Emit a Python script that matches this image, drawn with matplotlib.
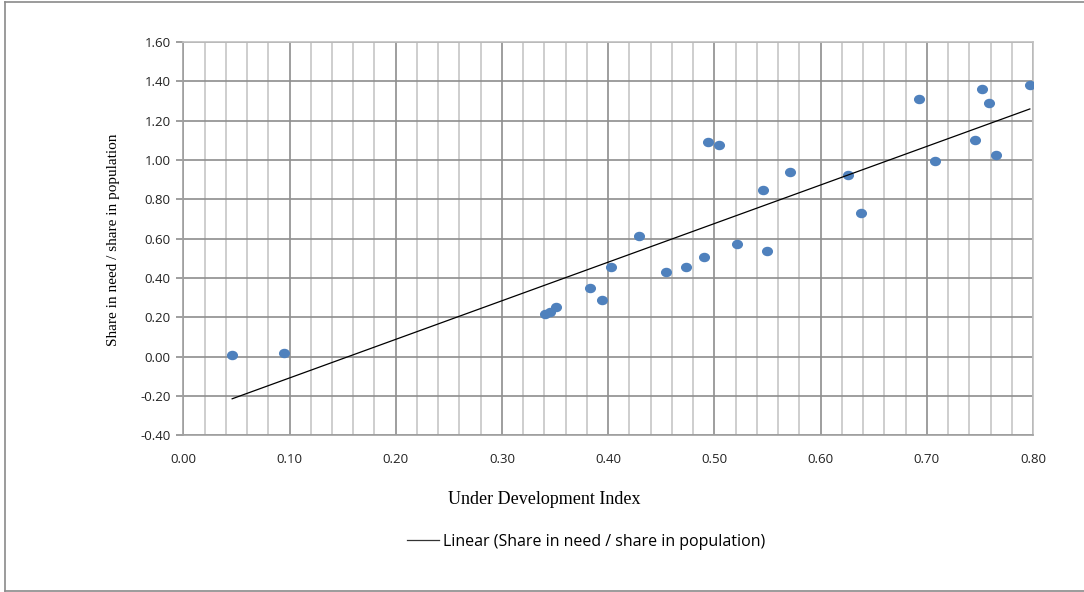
import numpy as np
import matplotlib
matplotlib.use("Agg")
import matplotlib.pyplot as plt
from matplotlib.markers import MarkerStyle
from matplotlib.transforms import Affine2D
from matplotlib.lines import Line2D

# Data
udi = [0.046, 0.095, 0.341, 0.345, 0.351, 0.383, 0.394, 0.403, 0.429, 0.454,
       0.473, 0.490, 0.494, 0.504, 0.521, 0.546, 0.550, 0.571, 0.626, 0.638,
       0.693, 0.708, 0.745, 0.752, 0.759, 0.765, 0.797]
share_ratio = [0.007, 0.017, 0.217, 0.227, 0.253, 0.348, 0.290, 0.456, 0.615, 0.429,
               0.458, 0.507, 1.090, 1.075, 0.571, 0.847, 0.536, 0.941, 0.924, 0.732,
               1.309, 0.997, 1.100, 1.359, 1.291, 1.025, 1.380]
x_ticks = [0.0, 0.1, 0.2, 0.3, 0.4, 0.5, 0.6, 0.7, 0.8]
y_ticks = [-0.4, -0.2, 0.0, 0.2, 0.4, 0.6, 0.8, 1.0, 1.2, 1.4, 1.6]
x_label = "Under Development Index"
y_label = "Share in need / share in population"
trend_label = "Linear (Share in need / share in population)"

W, H = 1084, 592
fig = plt.figure(figsize=(W / 100, H / 100), dpi=100)
ax = fig.add_axes([183.3 / W, 1 - 435.3 / H, (1033 - 183.3) / W, (435.3 - 42) / H])

sans = ["Open Sans", "DejaVu Sans"]
serif = ["Liberation Serif", "DejaVu Serif"]

# grid
major_c = "#8e8e8e"
minor_c = "#c6c6c6"
ax.set_xlim(0, 0.8)
ax.set_ylim(-0.4, 1.6)
ax.set_xticks(x_ticks)
ax.set_xticks(np.arange(0, 0.8001, 0.02), minor=True)
ax.set_yticks(y_ticks)
ax.grid(which="minor", axis="x", color=minor_c, lw=1.2, zorder=0)
ax.grid(which="major", axis="x", color=major_c, lw=1.2, zorder=0)
ax.grid(which="major", axis="y", color=major_c, lw=1.2, zorder=0)
ax.set_axisbelow(True)

ax.set_xticklabels([f"{v:.2f}" for v in x_ticks], fontfamily=sans, fontsize=9.5, color="#222222")
ax.set_yticklabels([f"{v:.2f}" for v in y_ticks], fontfamily=sans, fontsize=9.5, color="#222222")
ax.tick_params(axis="x", which="both", length=0, pad=12.5)
ax.tick_params(axis="y", which="major", length=5, color=major_c, width=1.2, pad=4)
ax.tick_params(axis="y", which="minor", length=0)

for s in ["left", "bottom"]:
    ax.spines[s].set_color("#a0a0a0")
    ax.spines[s].set_linewidth(1.2)
for s in ["top", "right"]:
    ax.spines[s].set_color("#c0c0c0")
    ax.spines[s].set_linewidth(1.2)

# scatter points (slightly wide ellipses)
mk = MarkerStyle("o", transform=Affine2D().scale(1.2, 1.0))
ax.plot(udi, share_ratio, linestyle="none", marker=mk, markersize=5.8,
        markerfacecolor="#4F81BD", markeredgecolor="#4F81BD", zorder=3)

# linear trendline
coef = np.polyfit(udi, share_ratio, 1)
xs = np.array([min(udi), max(udi)])
trend, = ax.plot(xs, np.polyval(coef, xs), color="black", lw=0.9, zorder=4, label=trend_label)

# axis titles
fig.text(544 / W, 1 - 499 / H, x_label, ha="center", va="center", fontfamily=serif, fontsize=13)
fig.text(113 / W, 1 - 240 / H, y_label, ha="center", va="center", rotation=90,
         fontfamily=serif, fontsize=11)

leg = fig.legend(handles=[trend], loc="center", bbox_to_anchor=(586 / W, 1 - 541.7 / H),
                 frameon=False, handlelength=2.0, handletextpad=0.25,
                 prop={"family": sans, "size": 11.5})
leg.get_lines()[0].set_color("#333333")

# outer chart border
bc = "#8a8a8a"
fig.add_artist(Line2D([5 / W, 5 / W], [1 - 591 / H, 1 - 1.5 / H], color=bc, lw=1.2, transform=fig.transFigure))
fig.add_artist(Line2D([5 / W, 1.0], [1 - 1.5 / H, 1 - 1.5 / H], color=bc, lw=1.2, transform=fig.transFigure))
fig.add_artist(Line2D([5 / W, 1.0], [1 - 591 / H, 1 - 591 / H], color=bc, lw=1.2, transform=fig.transFigure))

fig.savefig("out.png", dpi=100)
